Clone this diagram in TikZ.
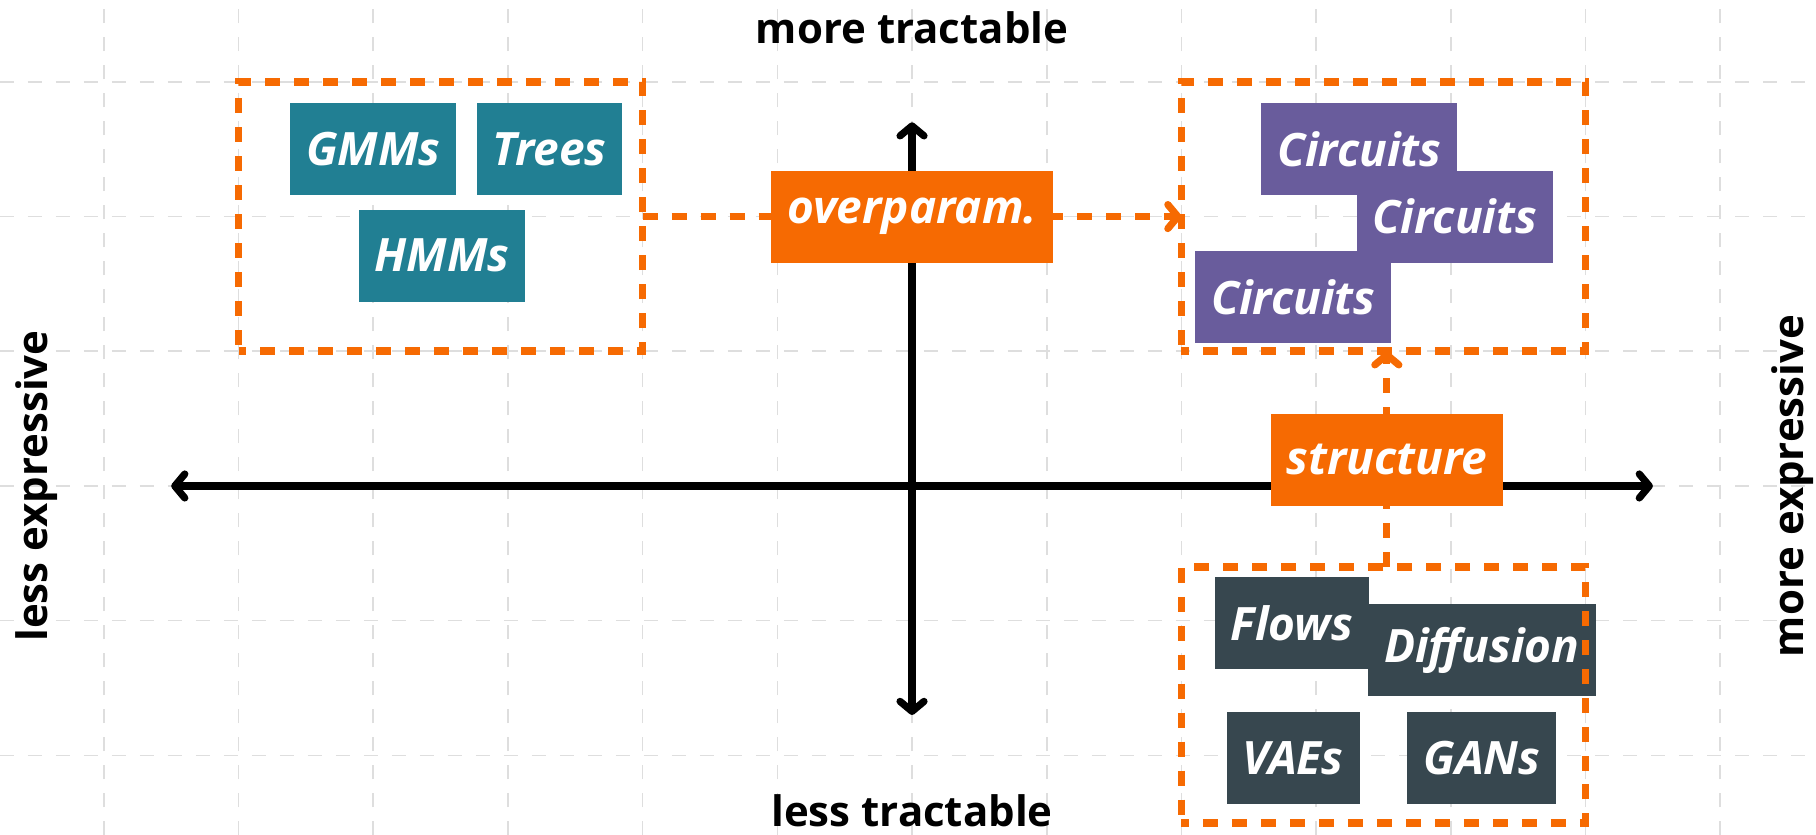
\documentclass[tikz,border=0pt]{standalone}
\usepackage{fontspec}
\setmainfont{Open Sans}
\usetikzlibrary{arrows.meta,backgrounds}
\definecolor{trickorange}{RGB}{246,106,2}
\definecolor{classicteal}{RGB}{33,127,147}
\definecolor{circuitpurple}{RGB}{105,92,156}
\definecolor{deepslate}{RGB}{55,71,79}

\tikzset{
  model/.style={fill=#1, text=white, font=\fontsize{23}{27}\selectfont\bfseries\itshape,
    inner xsep=8pt, inner ysep=0pt, minimum height=46pt},
  trick/.style={model=trickorange},
  family/.style={draw=trickorange, line width=3.8pt, dash pattern=on 7.5pt off 7pt,
    dash phase=3.75pt, minimum width=7.104cm, inner sep=0pt, outer sep=0pt},
  link/.style={draw=trickorange, line width=3.6pt, dash pattern=on 7.5pt off 7pt,
    -{Straight Barb[length=5pt,width=12pt,round]}},
  axis/.style={line width=3.6pt,
    {Straight Barb[length=5pt,width=12pt,round]}-{Straight Barb[length=5pt,width=12pt,round]}},
  axislabel/.style={font=\fontsize{21}{25}\selectfont\bfseries},
  gridline/.style={draw=black!13, line width=0.8pt, dash pattern=on 7pt off 7pt},
}

\begin{document}
\begin{tikzpicture}[x=2.368cm,y=2.368cm]
\useasboundingbox (-6.771,-2.591) rectangle (6.711,3.608);

% grid and the two axes
\begin{scope}[on background layer]
\draw[gridline, step=1] (-6.771,-2.591) grid (6.711,3.608);
\coordinate (west) at (-5.5,0);
\coordinate (east) at (5.5,0);
\coordinate (north) at (0,2.7);
\coordinate (south) at (0,-1.7);
\draw[axis] (west) -- (east);
\draw[axis] (south) -- (north);
\end{scope}

\node[axislabel, anchor=base] (tractable) at (0,3.285) {more tractable};
\node[axislabel, anchor=base] (intractable) at (0,-2.528) {less tractable};
\node[axislabel, anchor=base, rotate=90] (simple) at (-6.42,0) {less expressive};
\node[axislabel, anchor=base, rotate=90] (rich) at (6.62,0) {more expressive};

% classic models
\node[model=classicteal] (gmms) at (-4.0,2.5) {GMMs};
\node[model=classicteal] (trees) at (-2.69,2.5) {Trees};
\node[model=classicteal] (hmms) at (-3.49,1.71) {HMMs};

% circuits
\node[model=circuitpurple] (circ1) at (3.32,2.5) {Circuits};
\node[model=circuitpurple] (circ2) at (4.03,2.0) {Circuits};
\node[model=circuitpurple] (circ3) at (2.83,1.4) {Circuits};

% deep generative models
\node[model=deepslate] (flows) at (2.82,-1.02) {Flows};
\node[model=deepslate] (diffusion) at (4.23,-1.22) {Diffusion};
\node[model=deepslate] (vaes) at (2.83,-2.02) {VAEs};
\node[model=deepslate] (gans) at (4.23,-2.02) {GANs};

% dashed families
\node[family, minimum height=4.736cm] (classic) at (-3.5,2) {};
\node[family, minimum height=4.736cm] (circuits) at (3.5,2) {};
\node[family, minimum height=4.499cm] (deep) at (3.5,-1.55) {};

\node[trick] (overparam) at (0,2) {overparam.};
\node[trick] (structure) at (3.525,0.195) {structure};

\begin{scope}[on background layer]
\draw[link] (classic.east) -- (circuits.west);
\draw[link] (deep.north -| structure) -- (circuits.south -| structure);
\end{scope}
\end{tikzpicture}
\end{document}
